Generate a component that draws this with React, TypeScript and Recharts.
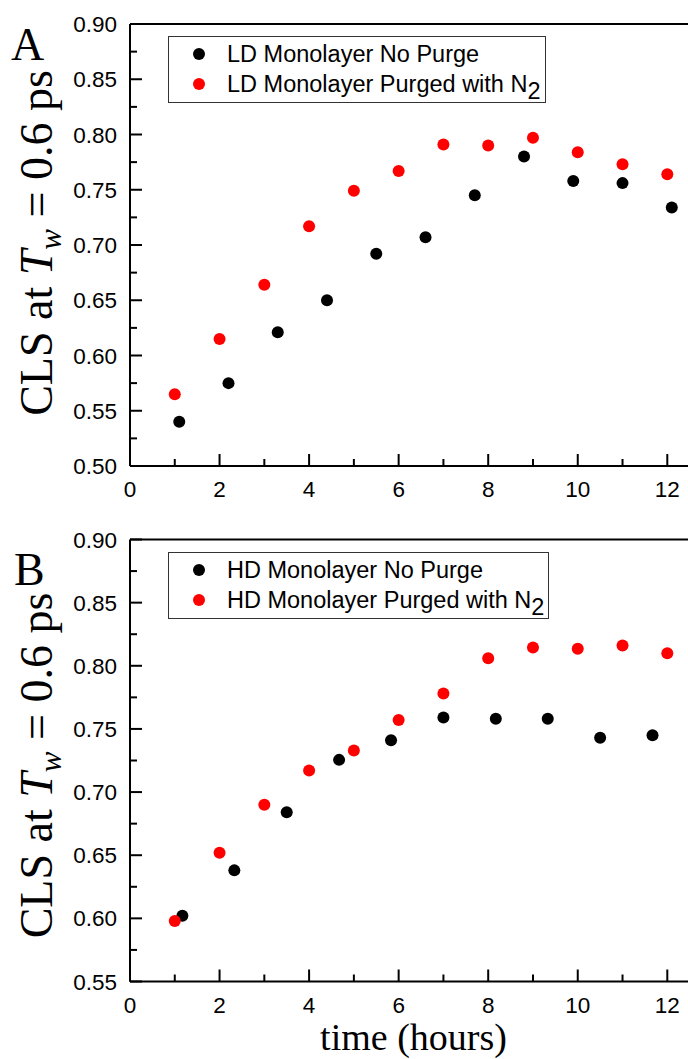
import React from 'react';
import { ScatterChart, Scatter, XAxis, YAxis, Legend } from 'recharts';

// ---------- data ----------
const timeLDNoPurge = [1.1, 2.2, 3.3, 4.4, 5.5, 6.6, 7.7, 8.8, 9.9, 11.0, 12.1];
const clsLDNoPurge = [0.540, 0.575, 0.621, 0.650, 0.692, 0.707, 0.745, 0.780, 0.758, 0.756, 0.734];
const timeLDPurged = [1, 2, 3, 4, 5, 6, 7, 8, 9, 10, 11, 12];
const clsLDPurged = [0.565, 0.615, 0.664, 0.717, 0.749, 0.767, 0.791, 0.790, 0.797, 0.784, 0.773, 0.764];

const timeHDNoPurge = [1.17, 2.33, 3.5, 4.67, 5.83, 7.0, 8.17, 9.33, 10.5, 11.67];
const clsHDNoPurge = [0.602, 0.638, 0.684, 0.7255, 0.741, 0.759, 0.758, 0.758, 0.743, 0.745];
const timeHDPurged = [1, 2, 3, 4, 5, 6, 7, 8, 9, 10, 11, 12];
const clsHDPurged = [0.598, 0.652, 0.690, 0.717, 0.733, 0.757, 0.778, 0.806, 0.8145, 0.8135, 0.816, 0.810];

const xTicks = [0, 1, 2, 3, 4, 5, 6, 7, 8, 9, 10, 11, 12];
const yTicksA = [0.5, 0.525, 0.55, 0.575, 0.6, 0.625, 0.65, 0.675, 0.7, 0.725, 0.75, 0.775, 0.8, 0.825, 0.85, 0.875, 0.9];
const yTicksB = [0.55, 0.575, 0.6, 0.625, 0.65, 0.675, 0.7, 0.725, 0.75, 0.775, 0.8, 0.825, 0.85, 0.875, 0.9];

const nameLDNoPurge = 'LD Monolayer No Purge';
const nameLDPurged = 'LD Monolayer Purged with N_2';
const nameHDNoPurge = 'HD Monolayer No Purge';
const nameHDPurged = 'HD Monolayer Purged with N_2';

const toPoints = (xs: number[], ys: number[]) => xs.map((x, i) => ({ time: x, cls: ys[i] }));

// ---------- style ----------
const SANS = '"Liberation Sans", Arial, sans-serif';
const SERIF = '"Liberation Serif", "Times New Roman", serif';
const X_MAX = 12.7;

const BottomTick = (props: any) => {
  const { x, y, payload } = props;
  const v = payload.value;
  const major = Math.round(v) % 2 === 0;
  return (
    <g>
      <line x1={x} x2={x} y1={y} y2={y - (major ? 12 : 7)} stroke="#000" strokeWidth={2} />
      {major && (
        <text x={x} y={y + 31} textAnchor="middle" fontFamily={SANS} fontSize={22.5} fill="#000">
          {v}
        </text>
      )}
    </g>
  );
};

const TopTick = (props: any) => {
  const { x, y } = props;
  return <line x1={x} x2={x} y1={y} y2={y + 3} stroke="#000" strokeWidth={1.5} />;
};

const LeftTick = (props: any) => {
  const { x, y, payload } = props;
  const v = payload.value;
  const major = Math.abs(Math.round(v * 20) - v * 20) < 1e-6;
  return (
    <g>
      <line x1={x} x2={x + (major ? 12 : 7)} y1={y} y2={y} stroke="#000" strokeWidth={2} />
      {major && (
        <text x={x - 13} y={y + 8} textAnchor="end" fontFamily={SANS} fontSize={22.5} fill="#000">
          {v.toFixed(2)}
        </text>
      )}
    </g>
  );
};

const renderName = (name: string) => {
  const parts = name.split('_');
  if (parts.length === 1) return <tspan>{name}</tspan>;
  return (
    <>
      <tspan>{parts[0]}</tspan>
      <tspan dy={7}>{parts[1]}</tspan>
    </>
  );
};

const makeLegend = (w: number, rowY: number[]) => (props: any) => {
  const payload = props.payload || [];
  return (
    <div style={{ position: 'relative', width: w, height: 67, border: '1px solid #333', boxSizing: 'border-box', background: '#fff' }}>
      <svg width={w - 2} height={65} style={{ display: 'block', overflow: 'visible' }}>
        {payload.map((e: any, i: number) => (
          <g key={i}>
            <circle cx={30} cy={rowY[i]} r={6} fill={e.color} />
            <text x={58} y={rowY[i] + 8} fontFamily={SANS} fontSize={23.5} fill="#000">
              {renderName(String(e.value))}
            </text>
          </g>
        ))}
      </svg>
    </div>
  );
};

const makeYLabel = (letter: string, letterX: number, letterY: number, shift: number) => (props: any) => {
  const vb = props.viewBox || {};
  const cx = 52;
  const cy = vb.y + vb.height / 2 + shift;
  return (
    <g>
      <text x={letterX} y={letterY} fontFamily={SERIF} fontSize={46} fill="#000">{letter}</text>
      <text
        x={cx}
        y={cy}
        transform={`rotate(-90, ${cx}, ${cy})`}
        textAnchor="middle"
        fontFamily={SERIF}
        fontSize={46}
        fill="#000"
      >
        <tspan>CLS at </tspan>
        <tspan fontStyle="italic">T</tspan>
        <tspan fontStyle="italic" fontSize={31} dy={9}>w</tspan>
        <tspan dy={-9}> = 0.6 ps</tspan>
      </text>
    </g>
  );
};

const XLabel = (props: any) => {
  const vb = props.viewBox || {};
  return (
    <text x={413.5} y={vb.y + 68} textAnchor="middle" fontFamily={SERIF} fontSize={38} fill="#000">
      time (hours)
    </text>
  );
};

type PanelProps = {
  letter: string;
  letterX: number;
  letterY: number;
  labelShift: number;
  height: number;
  marginTop: number;
  marginBottom: number;
  yDomain: [number, number];
  yTicks: number[];
  black: { time: number; cls: number }[];
  red: { time: number; cls: number }[];
  blackName: string;
  redName: string;
  legendTop: number;
  legendW: number;
  legendRows: number[];
  showXLabel: boolean;
};

const Panel = (p: PanelProps) => {
  const chartW = 712;
  const plotLeft = 130;
  const plotW = X_MAX * 44.775;
  const marginRight = chartW - plotLeft - plotW;
  return (
    <ScatterChart
      width={chartW}
      height={p.height}
      margin={{ top: p.marginTop, right: marginRight, bottom: p.marginBottom, left: 70 }}
    >
      <XAxis
        dataKey="time"
        type="number"
        domain={[0, X_MAX]}
        allowDataOverflow
        ticks={xTicks}
        interval={0}
        height={40}
        tickSize={0}
        tickMargin={0}
        tickLine={false}
        axisLine={{ stroke: '#000', strokeWidth: 2 }}
        tick={(tp: any) => <BottomTick {...tp} />}
        label={p.showXLabel ? (lp: any) => <XLabel {...lp} /> : undefined}
      />
      <XAxis
        xAxisId="top"
        orientation="top"
        type="number"
        domain={[0, X_MAX]}
        allowDataOverflow
        ticks={xTicks}
        interval={0}
        height={4}
        tickSize={0}
        tickMargin={0}
        tickLine={false}
        axisLine={{ stroke: '#000', strokeWidth: 2 }}
        tick={(tp: any) => <TopTick {...tp} />}
      />
      <YAxis
        dataKey="cls"
        type="number"
        domain={p.yDomain}
        allowDataOverflow
        ticks={p.yTicks}
        interval={0}
        width={60}
        tickSize={0}
        tickMargin={0}
        tickLine={false}
        axisLine={{ stroke: '#000', strokeWidth: 2 }}
        tick={(tp: any) => <LeftTick {...tp} />}
        label={makeYLabel(p.letter, p.letterX, p.letterY, p.labelShift)}
      />
      <Legend
        layout="horizontal"
        verticalAlign="middle"
        align="center"
        content={makeLegend(p.legendW, p.legendRows)}
        wrapperStyle={{ position: 'absolute', left: 168, top: p.legendTop, width: p.legendW, height: 67, margin: 0 }}
      />
      <Scatter
        name={p.blackName}
        data={p.black}
        fill="#000000"
        isAnimationActive={false}
        shape={(sp: any) => <circle cx={sp.cx} cy={sp.cy} r={6} fill="#000000" />}
      />
      <Scatter
        name={p.redName}
        data={p.red}
        fill="#ff0000"
        isAnimationActive={false}
        shape={(sp: any) => <circle cx={sp.cx} cy={sp.cy} r={6} fill="#ff0000" />}
      />
    </ScatterChart>
  );
};

export default function App() {
  return (
    <div style={{ position: 'absolute', left: 0, top: 0, width: 688, height: 1059, overflow: 'hidden', background: '#fff' }}>
      <div style={{ position: 'absolute', left: 0, top: 0 }}>
        <Panel
          letter="A"
          letterX={11}
          letterY={60}
          labelShift={-2}
          height={510}
          marginTop={20}
          marginBottom={4}
          yDomain={[0.5, 0.9]}
          yTicks={yTicksA}
          black={toPoints(timeLDNoPurge, clsLDNoPurge)}
          red={toPoints(timeLDPurged, clsLDPurged)}
          blackName={nameLDNoPurge}
          redName={nameLDPurged}
          legendTop={36}
          legendW={378}
          legendRows={[17, 47]}
          showXLabel={false}
        />
      </div>
      <div style={{ position: 'absolute', left: 0, top: 510 }}>
        <Panel
          letter="B"
          letterX={14}
          letterY={75}
          labelShift={5}
          height={549}
          marginTop={25.5}
          marginBottom={37.5}
          yDomain={[0.55, 0.9]}
          yTicks={yTicksB}
          black={toPoints(timeHDNoPurge, clsHDNoPurge)}
          red={toPoints(timeHDPurged, clsHDPurged)}
          blackName={nameHDNoPurge}
          redName={nameHDPurged}
          legendTop={42}
          legendW={381}
          legendRows={[17, 47]}
          showXLabel={true}
        />
      </div>
    </div>
  );
}
